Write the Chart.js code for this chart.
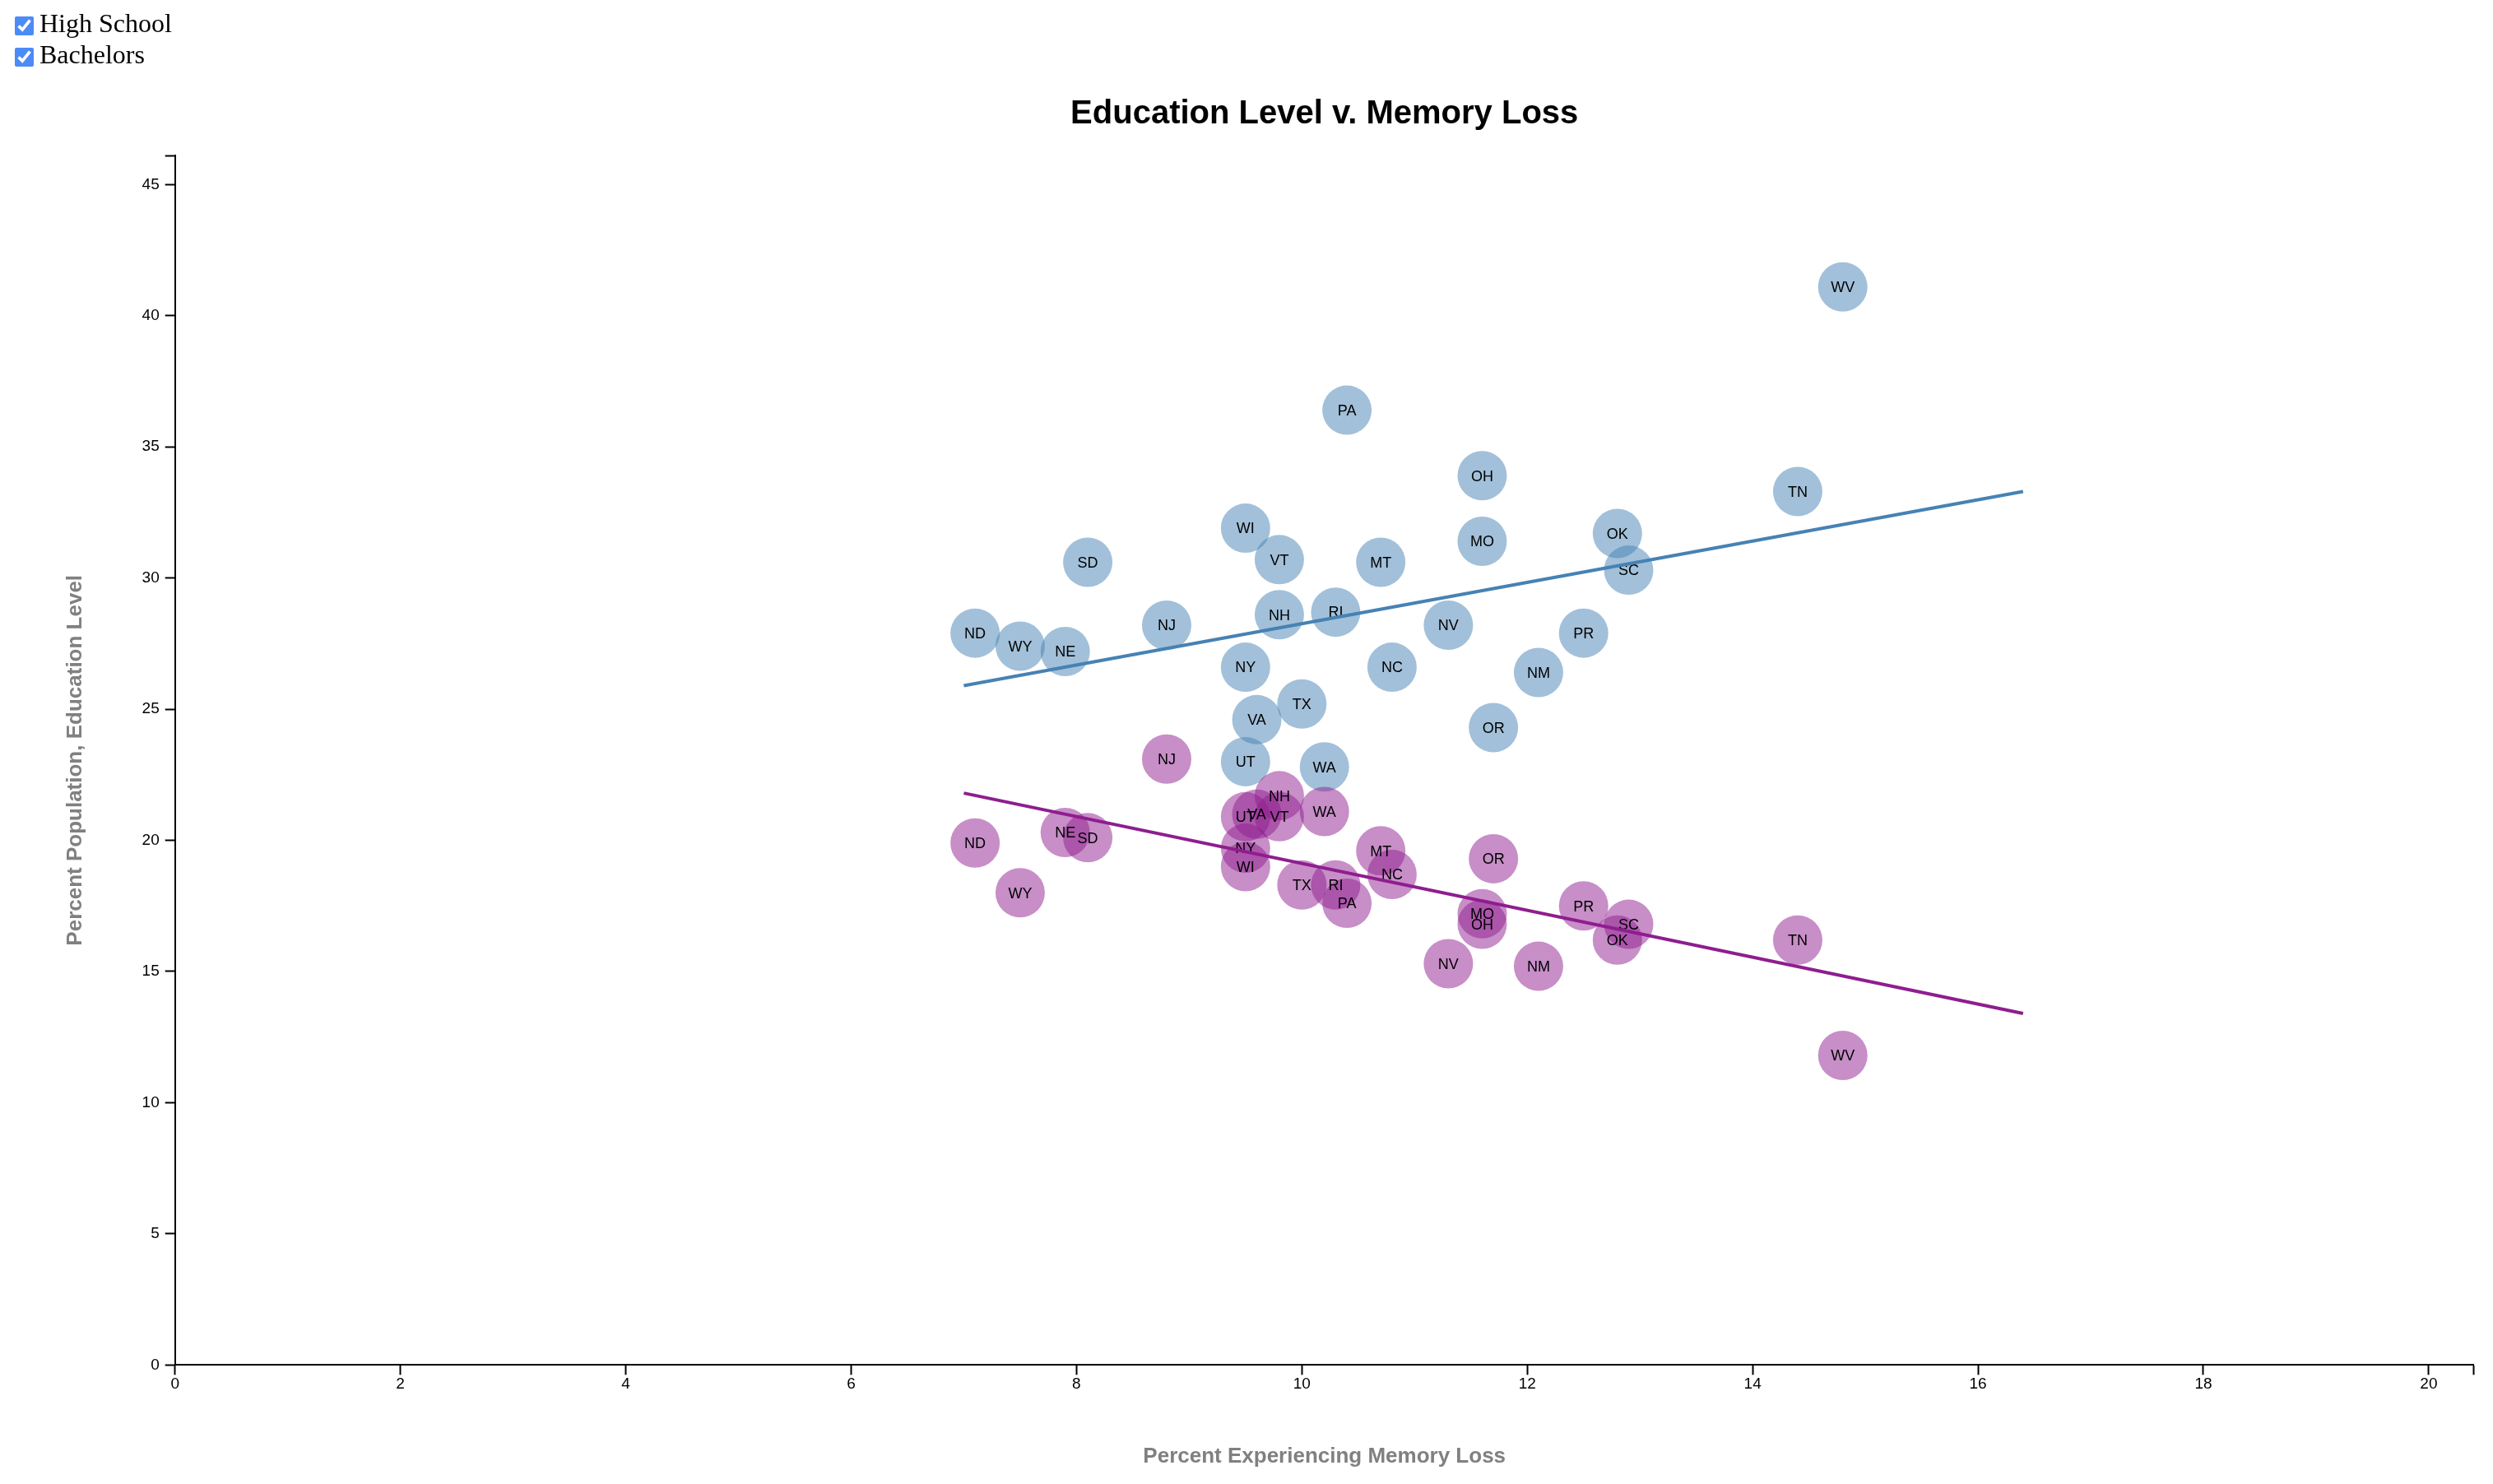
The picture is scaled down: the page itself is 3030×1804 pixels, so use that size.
<!DOCTYPE html>
<html>
<head>
<meta charset="utf-8">
<script src="https://cdn.jsdelivr.net/npm/chart.js@4.4.1/dist/chart.umd.min.js"></script>
<style>
  html, body { margin: 0; padding: 0; background: #fff; }
  body { width: 3030px; height: 1804px; position: relative; overflow: hidden; }
  #chart { position: absolute; left: 0; top: 0; width: 3030px; height: 1804px; }
  .row { position: absolute; left: 0; height: 38px; font-family: "Liberation Serif", "Times New Roman", serif; font-size: 32px; line-height: 38px; white-space: nowrap; color: #000; z-index: 2; }
  .row input { position: absolute; left: 18px; top: 11px; width: 23px; height: 23px; margin: 0; accent-color: #4c8bf5; }
  .row span { position: absolute; left: 48px; top: 0; }
</style>
</head>
<body>
<div class="row" style="top:9px"><input type="checkbox" checked><span>High School</span></div>
<div class="row" style="top:47px"><input type="checkbox" checked><span>Bachelors</span></div>
<canvas id="chart" width="3030" height="1804"></canvas>
<script>
// ---- data ----
const states = ['ND','WY','NE','SD','NJ','WI','VT','NH','RI','MT','PA','OH','MO','NV','NC','NY','TX','VA','UT','WA','OR','NM','PR','OK','SC','TN','WV'];
const memoryLoss = [7.1,7.5,7.9,8.1,8.8,9.5,9.8,9.8,10.3,10.7,10.4,11.6,11.6,11.3,10.8,9.5,10.0,9.6,9.5,10.2,11.7,12.1,12.5,12.8,12.9,14.4,14.8];
const highSchool = [27.9,27.4,27.2,30.6,28.2,31.9,30.7,28.6,28.7,30.6,36.4,33.9,31.4,28.2,26.6,26.6,25.2,24.6,23.0,22.8,24.3,26.4,27.9,31.7,30.3,33.3,41.1];
const bachelors = [19.9,18.0,20.3,20.1,23.1,19.0,20.9,21.7,18.3,19.6,17.6,16.8,17.2,15.3,18.7,19.7,18.3,21.0,20.9,21.1,19.3,15.2,17.5,16.2,16.8,16.2,11.8];
const trendX = [7.0, 16.4];
const highSchoolTrend = [25.9, 33.3];
const bachelorsTrend = [21.8, 13.4];
const xTicks = [0,2,4,6,8,10,12,14,16,18,20];
const yTicks = [0,5,10,15,20,25,30,35,40,45];
const xMax = 20.4;
const yMax = 46.1;

const blue = 'rgb(70,130,180)';
const blueFill = 'rgba(70,130,180,0.5)';
const purple = 'rgb(143,29,143)';
const purpleFill = 'rgba(143,29,143,0.5)';
const FONT = '"Liberation Sans", Arial, Helvetica, sans-serif';

const pts = (xs, ys) => xs.map((x, i) => ({ x: x, y: ys[i] }));

const labelPlugin = {
  id: 'stateLabels',
  afterDatasetDraw(chart, args) {
    const ds = chart.data.datasets[args.index];
    if (!ds.stateLabels) return;
    const ctx = chart.ctx;
    ctx.save();
    ctx.font = '18px ' + FONT;
    ctx.fillStyle = '#000';
    ctx.textAlign = 'center';
    ctx.textBaseline = 'alphabetic';
    args.meta.data.forEach((p, i) => {
      ctx.fillText(ds.stateLabels[i], p.x, p.y + 18 * 0.35);
    });
    ctx.restore();
  }
};

const textPlugin = {
  id: 'titles',
  afterDraw(chart) {
    const ctx = chart.ctx;
    const a = chart.chartArea;
    const cx = (a.left + a.right) / 2;
    const cy = (a.top + a.bottom) / 2;
    ctx.save();
    ctx.fillStyle = '#000';
    ctx.textAlign = 'center';
    ctx.textBaseline = 'alphabetic';
    ctx.font = 'bold 40px ' + FONT;
    ctx.fillText('Education Level v. Memory Loss', cx, 150);
    ctx.fillStyle = '#808080';
    ctx.font = 'bold 26px ' + FONT;
    ctx.fillText('Percent Experiencing Memory Loss', cx, 1778);
    ctx.translate(99, cy);
    ctx.rotate(-Math.PI / 2);
    ctx.fillText('Percent Population, Education Level', 0, 0);
    ctx.restore();
  }
};

new Chart(document.getElementById('chart'), {
  type: 'scatter',
  data: {
    datasets: [
      {
        label: 'High School trend',
        data: pts(trendX, highSchoolTrend),
        showLine: true, borderColor: blue, borderWidth: 4,
        pointRadius: 0, order: 1
      },
      {
        label: 'Bachelors trend',
        data: pts(trendX, bachelorsTrend),
        showLine: true, borderColor: purple, borderWidth: 4,
        pointRadius: 0, order: 0
      },
      {
        label: 'High School',
        data: pts(memoryLoss, highSchool),
        stateLabels: states,
        pointRadius: 30, pointBackgroundColor: blueFill, pointBorderWidth: 0,
        borderWidth: 0, order: 3
      },
      {
        label: 'Bachelors',
        data: pts(memoryLoss, bachelors),
        stateLabels: states,
        pointRadius: 30, pointBackgroundColor: purpleFill, pointBorderWidth: 0,
        borderWidth: 0, order: 2
      }
    ]
  },
  options: {
    responsive: false,
    devicePixelRatio: 1,
    animation: false,
    events: [],
    layout: { autoPadding: false, padding: { top: 189.3, right: 23.3, left: 0, bottom: 0 } },
    plugins: { legend: { display: false }, tooltip: { enabled: false }, title: { display: false } },
    scales: {
      x: {
        type: 'linear', min: 0, max: xMax,
        afterFit(s) { s.height = 144.7; s.paddingLeft = 0; s.paddingRight = 0; },
        afterBuildTicks(s) { s.ticks = xTicks.concat([xMax]).map(v => ({ value: v })); },
        grid: { display: true, drawOnChartArea: false, drawTicks: true, tickLength: 12, tickColor: '#000', tickWidth: 2 },
        border: { display: true, color: '#000', width: 2 },
        ticks: {
          autoSkip: false, maxRotation: 0, padding: 0, color: '#000',
          font: { family: FONT, size: 19 },
          callback: v => (xTicks.includes(v) ? String(v) : '')
        }
      },
      y: {
        type: 'linear', min: 0, max: yMax,
        afterFit(s) { s.width = 212.7; s.paddingTop = 0; s.paddingBottom = 0; },
        afterBuildTicks(s) { s.ticks = yTicks.concat([yMax]).map(v => ({ value: v })); },
        grid: { display: true, drawOnChartArea: false, drawTicks: true, tickLength: 12, tickColor: '#000', tickWidth: 2 },
        border: { display: true, color: '#000', width: 2 },
        ticks: {
          autoSkip: false, padding: 7, color: '#000',
          font: { family: FONT, size: 19 },
          callback: v => (yTicks.includes(v) ? String(v) : '')
        }
      }
    }
  },
  plugins: [labelPlugin, textPlugin]
});
</script>
</body>
</html>
